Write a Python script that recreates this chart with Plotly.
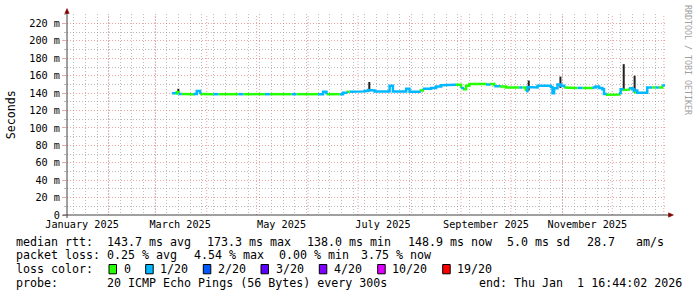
import plotly.graph_objects as go
import pandas as pd

# ---------------- data ----------------
sample_dates = [
    "2025-03-11", "2025-03-13", "2025-03-14", "2025-03-15", "2025-03-17", "2025-03-21",
    "2025-03-24", "2025-03-26", "2025-03-28", "2025-04-02", "2025-04-05", "2025-04-08",
    "2025-04-15", "2025-04-20", "2025-04-23", "2025-05-01", "2025-05-06", "2025-05-09",
    "2025-05-17", "2025-05-22", "2025-05-25", "2025-06-02", "2025-06-07", "2025-06-10",
    "2025-06-12", "2025-06-18", "2025-06-20", "2025-06-22", "2025-06-24", "2025-06-26",
    "2025-07-01", "2025-07-05", "2025-07-07", "2025-07-09", "2025-07-11", "2025-07-16",
    "2025-07-20", "2025-07-22", "2025-07-28", "2025-07-30", "2025-08-01", "2025-08-05",
    "2025-08-07", "2025-08-09", "2025-08-14", "2025-08-17", "2025-08-20", "2025-08-24",
    "2025-08-29", "2025-09-01", "2025-09-02", "2025-09-04", "2025-09-06", "2025-09-12",
    "2025-09-16", "2025-09-18", "2025-09-21", "2025-09-24", "2025-09-28", "2025-10-02",
    "2025-10-06", "2025-10-08", "2025-10-10", "2025-10-11", "2025-10-13", "2025-10-17",
    "2025-10-22", "2025-10-25", "2025-10-26", "2025-10-27", "2025-10-29", "2025-10-31",
    "2025-11-02", "2025-11-06", "2025-11-10", "2025-11-13", "2025-11-17", "2025-11-19",
    "2025-11-21", "2025-11-23", "2025-11-25", "2025-11-26", "2025-11-27", "2025-12-03",
    "2025-12-05", "2025-12-06", "2025-12-07", "2025-12-10", "2025-12-11", "2025-12-13",
    "2025-12-14", "2025-12-15", "2025-12-16", "2025-12-22", "2025-12-25", "2025-12-27",
    "2025-12-29", "2025-12-31", "2026-01-01 16:00",
]
median_rtt_ms = [
    140.0, 139.5, 141.0, 139.0, 139.0, 138.8,
    139.0, 142.5, 139.0, 138.8, 138.8, 138.8,
    138.8, 138.8, 138.8, 138.8, 138.8, 138.8,
    138.8, 138.8, 138.8, 138.8, 138.8, 141.5,
    138.8, 138.8, 138.8, 140.5, 141.5, 141.5,
    142.0, 142.5, 143.5, 143.0, 142.0, 142.0,
    148.5, 142.0, 142.0, 145.0, 141.5, 141.5,
    143.0, 145.0, 146.0, 147.5, 149.0, 149.5,
    149.5, 146.0, 144.5, 148.5, 150.5, 150.5,
    150.0, 150.5, 148.0, 147.5, 146.5, 146.5,
    146.5, 146.5, 142.5, 147.0, 146.5, 148.5,
    148.5, 147.0, 140.0, 145.5, 150.0, 148.5,
    146.5, 146.0, 146.0, 146.0, 146.0, 146.5,
    147.5, 146.0, 144.5, 139.0, 138.0, 138.5,
    140.0, 144.5, 143.5, 144.0, 145.5, 144.5,
    141.0, 143.0, 140.5, 146.5, 146.5, 146.5,
    146.5, 148.9, 148.9,
]
# index into loss_colors (0 = no loss, 1 = 1/20 ...)
loss_class = [
    1, 0, 0, 1, 0, 0,
    1, 1, 0, 0, 1, 0,
    0, 1, 0, 0, 1, 0,
    0, 1, 0, 0, 1, 1,
    0, 0, 1, 1, 0, 1,
    1, 1, 1, 1, 1, 1,
    1, 1, 1, 1, 1, 1,
    0, 1, 1, 1, 1, 1,
    0, 1, 0, 0, 0, 0,
    1, 0, 1, 0, 0, 0,
    1, 0, 1, 1, 1, 1,
    1, 1, 1, 1, 1, 1,
    0, 0, 1, 0, 0, 1,
    1, 1, 1, 1, 0, 0,
    1, 1, 0, 0, 1, 1,
    0, 1, 1, 1, 0, 1,
    0, 1, 1,
]

# smoke spikes (min / max of ping spread)
spike_dates = ["2025-03-14 22:00", "2025-07-07 19:00", "2025-10-11 17:00",
               "2025-10-30 19:00", "2025-12-07 21:00", "2025-12-14 10:00"]
spike_low_ms = [140.0, 142.0, 143.0, 146.0, 143.0, 141.0]
spike_high_ms = [145.0, 152.8, 154.5, 159.0, 173.3, 160.0]

loss_labels = ["0", "1/20", "2/20", "3/20", "4/20", "10/20", "19/20"]
loss_colors = ["#26ff00", "#00b8ff", "#0059ff", "#5e00ff", "#7e00ff", "#dd00ff", "#ff0000"]

y_tick_vals = [0, 20, 40, 60, 80, 100, 120, 140, 160, 180, 200, 220]
y_tick_text = ["0", "20 m", "40 m", "60 m", "80 m", "100 m", "120 m", "140 m",
               "160 m", "180 m", "200 m", "220 m"]
y_minor_vals = [10, 30, 50, 70, 90, 110, 130, 150, 170, 190, 210, 230]

month_label_pos = ["2025-01-16", "2025-03-16", "2025-05-16", "2025-07-16",
                   "2025-09-16", "2025-11-16"]
month_labels = ["January 2025", "March 2025", "May 2025", "July 2025",
                "September 2025", "November 2025"]

x_start = "2025-01-06 22:00"
x_end = "2026-01-01 16:44"

rtt_stats = [("median rtt:", 15), ("143.7 ms avg", 106), ("173.3 ms max", 206),
             ("138.0 ms min", 306), ("148.9 ms now", 406.5), ("5.0 ms sd", 505.5),
             ("28.7", 585.5), ("am/s", 634.5)]
loss_stats = [("packet loss:", 15), ("0.25 % avg", 106), ("4.54 % max", 192.5),
              ("0.00 % min", 277.7), ("3.75 % now", 359.7)]
probe_text = [("probe:", 15), ("20 ICMP Echo Pings (56 Bytes) every 300s", 106),
              ("end: Thu Jan  1 16:44:02 2026", 477.5)]
loss_box_left = [109, 145.7, 203.3, 261, 319.3, 377.7, 442.7]
loss_label_left = [123, 159, 217.3, 275, 333, 391.3, 455.7]

# ---------------- layout geometry ----------------
W, H = 697, 297
L, R, T, B = 67, 665, 14, 215
PW, PH = R - L, B - T

GRID = "rgba(143,143,143,0.6)"
MGRID = "rgba(222,79,79,0.5)"
DASH = "1px,2px"
FONT = "DejaVu Sans Mono"


def px(xp):
    return (xp - L) / PW


def py(yp):
    return (B - yp) / PH


fig = go.Figure()

# smoke spikes
sx, sy = [], []
for d, lo, hi in zip(spike_dates, spike_low_ms, spike_high_ms):
    sx += [d, d, None]
    sy += [lo, hi, None]
fig.add_trace(go.Scatter(x=sx, y=sy, mode="lines",
                         line=dict(color="#222222", width=2),
                         hoverinfo="skip", showlegend=False))

# median line, coloured by loss class (step line)
n = len(sample_dates)
for c in sorted(set(loss_class)):
    xs, ys = [], []
    k = 0
    while k < n - 1:
        if loss_class[k] == c:
            xs.append(sample_dates[k]); ys.append(median_rtt_ms[k])
            while k < n - 1 and loss_class[k] == c:
                xs += [sample_dates[k + 1], sample_dates[k + 1]]
                ys += [median_rtt_ms[k], median_rtt_ms[k + 1]]
                k += 1
            xs.append(None); ys.append(None)
        else:
            k += 1
    fig.add_trace(go.Scatter(x=xs, y=ys, mode="lines",
                             line=dict(color=loss_colors[c], width=2.5),
                             hoverinfo="skip", showlegend=False))

# major (monthly) vertical grid
shapes = []
for m in pd.date_range("2025-02-01", "2026-01-01", freq="MS"):
    shapes.append(dict(type="line", xref="x", yref="paper", x0=m, x1=m, y0=0, y1=1,
                       line=dict(color=MGRID, width=1, dash=DASH), layer="below"))

# axis lines + arrows
shapes.append(dict(type="line", xref="paper", yref="paper", x0=px(62.5), x1=px(669),
                   y0=0, y1=0, line=dict(color="#404040", width=1)))
shapes.append(dict(type="line", xref="paper", yref="paper", x0=0, x1=0,
                   y0=py(218), y1=py(12), line=dict(color="#404040", width=1)))
shapes.append(dict(type="path", xref="paper", yref="paper",
                   path=f"M {px(668.5)},{py(212.8)} L {px(673.5)},{py(215)} L {px(668.5)},{py(217.2)} Z",
                   fillcolor="#800000", line=dict(color="#800000", width=0.5)))
shapes.append(dict(type="path", xref="paper", yref="paper",
                   path=f"M {px(64.8)},{py(13.5)} L {px(67)},{py(8.5)} L {px(69.2)},{py(13.5)} Z",
                   fillcolor="#800000", line=dict(color="#800000", width=0.5)))

# loss colour boxes
for bx, col in zip(loss_box_left, loss_colors):
    shapes.append(dict(type="rect", xref="paper", yref="paper",
                       x0=px(bx), x1=px(bx + 7.5), y0=py(273.8), y1=py(264.5),
                       fillcolor=col, line=dict(color="black", width=1)))

annotations = []


def ann(text, xp, yp, size=11.65, color="black", angle=0, xanchor="left"):
    annotations.append(dict(text=text.replace(" ", "\u00a0"), x=px(xp), y=py(yp),
                            xref="paper", yref="paper", xanchor=xanchor, yanchor="middle",
                            showarrow=False, borderpad=0, textangle=angle,
                            font=dict(family=FONT, size=size, color=color)))


for t, xp in rtt_stats:
    ann(t, xp, 241.7)
for t, xp in loss_stats:
    ann(t, xp, 255.2)
ann("loss color:", 15, 268.8)
for t, xp in zip(loss_labels, loss_label_left):
    ann(t, xp, 268.8)
for t, xp in probe_text:
    ann(t, xp, 282.6)

ann("Seconds", 10.8, 114.5, angle=-90, xanchor="center")
ann("RRDTOOL / TOBI OETIKER", 688, 60, size=8.3, color="#a0a0a0", angle=90, xanchor="center")

fig.update_layout(
    width=W, height=H,
    margin=dict(l=L, r=W - R, t=T, b=H - B, pad=0),
    paper_bgcolor="white", plot_bgcolor="white",
    showlegend=False,
    shapes=shapes, annotations=annotations,
    xaxis=dict(
        type="date", range=[x_start, x_end],
        tickmode="array", tickvals=month_label_pos, ticktext=month_labels,
        showgrid=False, zeroline=False, showline=False, ticks="",
        tickfont=dict(family=FONT, size=10.2, color="black"),
        ticklabelstandoff=2,
        minor=dict(tickmode="array",
                   tickvals=list(pd.date_range("2025-01-11", "2025-12-31", freq="7D")),
                   showgrid=True, gridcolor=GRID, griddash=DASH, gridwidth=1,
                   ticks=""),
    ),
    yaxis=dict(
        range=[0, 230.9],
        tickmode="array", tickvals=y_tick_vals, ticktext=y_tick_text,
        showgrid=True, gridcolor=MGRID, griddash=DASH, gridwidth=1,
        zeroline=False, showline=False,
        ticks="outside", ticklen=4, tickcolor=MGRID,
        tickfont=dict(family=FONT, size=10.2, color="black"),
        minor=dict(tickmode="array", tickvals=y_minor_vals, showgrid=True,
                   gridcolor=GRID, griddash=DASH, gridwidth=1,
                   ticks="outside", ticklen=2, tickcolor=GRID),
    ),
)

fig.write_html("out.html")
